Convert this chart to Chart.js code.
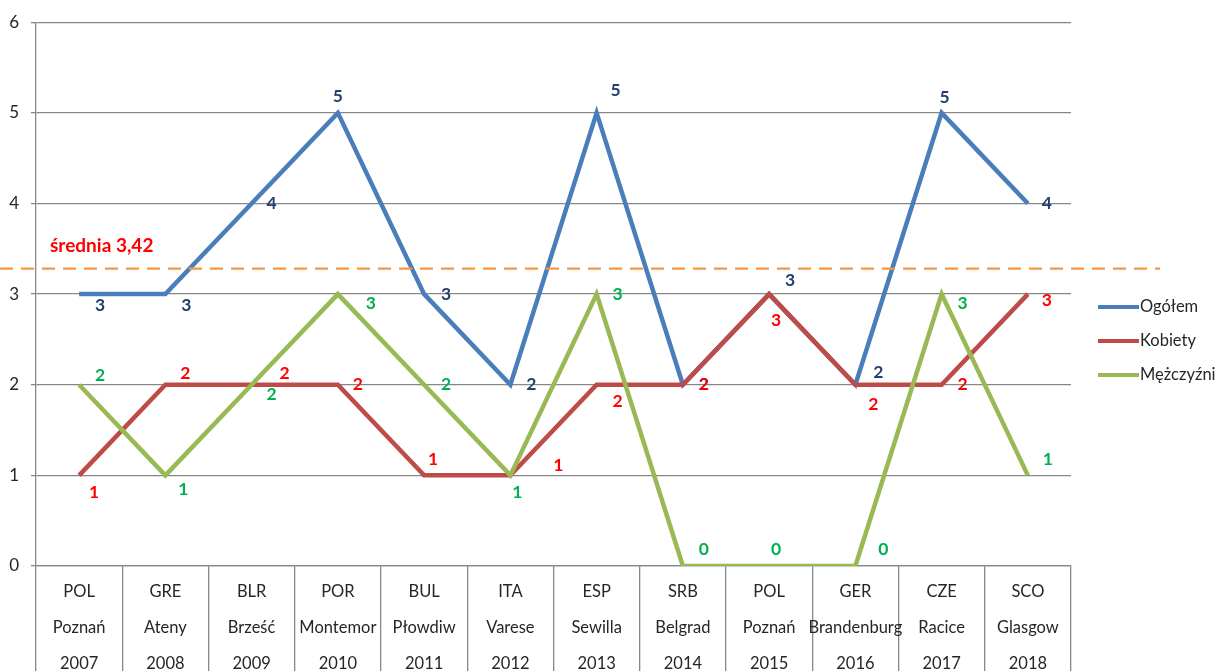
<!DOCTYPE html>
<html>
<head>
<meta charset="utf-8">
<script src="https://cdn.jsdelivr.net/npm/chart.js@4/dist/chart.umd.min.js"></script>
<style>
    html, body { margin: 0; padding: 0; background: #fff; }
    #wrap { width: 1219px; height: 671px; position: relative; }
</style>
</head>
<body>
<div id="wrap"><canvas id="chart"></canvas></div>
<script>
// Categories (country, city, year)
const countries = ['POL', 'GRE', 'BLR', 'POR', 'BUL', 'ITA', 'ESP', 'SRB', 'POL', 'GER', 'CZE', 'SCO'];
const cities = ['Poznań', 'Ateny', 'Brześć', 'Montemor', 'Płowdiw', 'Varese', 'Sewilla', 'Belgrad', 'Poznań', 'Brandenburg', 'Racice', 'Glasgow'];
const years = ['2007', '2008', '2009', '2010', '2011', '2012', '2013', '2014', '2015', '2016', '2017', '2018'];

// Series values
const ogolem = [3, 3, 4, 5, 3, 2, 5, 2, 3, 2, 5, 4];
const kobiety = [1, 2, 2, 2, 1, 1, 2, 2, 3, 2, 2, 3];
const mezczyzni = [2, 1, 2, 3, 2, 1, 3, 0, 0, 0, 3, 1];

// Average line (as drawn) and its caption
const averageLevel = 3.28;
const averageText = 'średnia 3,42';

// Y axis ticks
const yTicks = [0, 1, 2, 3, 4, 5, 6];

// Label shifts relative to each point (px)
const ogolemShift = [[21, 11], [21, 11], [20, 0], [0, -16], [22, 0], [21, 0], [19, -22], [21, 0], [21, -14], [23, -12], [3, -15], [19, 0]];
const kobietyShift = [[15, 17], [20, -11], [33, -11], [20, 0], [9, -16], [48, -10], [21, 17], [21, 0], [7, 26], [18, 20], [21, 0], [19, 6]];
const mezczyzniShift = [[21, -9], [18, 14], [20, 10], [33, 9], [22, 0], [7, 17], [21, 0], [21, -17], [7, -17], [28, -17], [21, 9], [20, -16]];

const FONT = 'Lato, "Open Sans", sans-serif';
const GRID = '#878787';

const labels = countries.map((c, i) => [c, cities[i], years[i]]);

// Draw value labels next to each point
const valueLabels = {
    id: 'valueLabels',
    afterDatasetsDraw(chart) {
        const ctx = chart.ctx;
        ctx.save();
        ctx.font = 'bold 17.5px ' + FONT;
        ctx.textAlign = 'center';
        ctx.textBaseline = 'middle';
        chart.data.datasets.forEach((ds, di) => {
            const meta = chart.getDatasetMeta(di);
            ctx.fillStyle = ds.labelColor;
            meta.data.forEach((pt, i) => {
                const s = ds.labelShift[i];
                ctx.fillText(String(ds.data[i]), pt.x + s[0], pt.y + s[1]);
            });
        });
        ctx.restore();
    }
};

// Dashed average line + caption
const averageLine = {
    id: 'averageLine',
    afterDatasetsDraw(chart) {
        const ctx = chart.ctx;
        const y = chart.scales.y.getPixelForValue(averageLevel);
        ctx.save();
        ctx.strokeStyle = '#f79646';
        ctx.lineWidth = 2.2;
        ctx.setLineDash([13, 8]);
        ctx.beginPath();
        ctx.moveTo(0, y);
        ctx.lineTo(1160, y);
        ctx.stroke();
        ctx.setLineDash([]);
        ctx.fillStyle = '#ff0000';
        ctx.font = 'bold 19px ' + FONT;
        ctx.textAlign = 'left';
        ctx.textBaseline = 'middle';
        ctx.fillText(averageText, chart.chartArea.left + 14, y - 23);
        ctx.restore();
    }
};

// Legend on the right
const sideLegend = {
    id: 'sideLegend',
    afterDraw(chart) {
        const ctx = chart.ctx;
        ctx.save();
        ctx.font = '16.5px ' + FONT;
        ctx.textAlign = 'left';
        ctx.textBaseline = 'middle';
        chart.data.datasets.forEach((ds, i) => {
            const y = 307 + i * 34;
            ctx.strokeStyle = ds.borderColor;
            ctx.lineWidth = 4;
            ctx.beginPath();
            ctx.moveTo(1098, y);
            ctx.lineTo(1139, y);
            ctx.stroke();
            ctx.fillStyle = '#262626';
            ctx.fillText(ds.label, 1140, y);
        });
        ctx.restore();
    }
};

new Chart(document.getElementById('chart'), {
    type: 'line',
    data: {
        labels: labels,
        datasets: [
            { label: 'Ogółem', data: ogolem, borderColor: '#4a7ebb', labelColor: '#243f6e', labelShift: ogolemShift, order: 3 },
            { label: 'Kobiety', data: kobiety, borderColor: '#be4b48', labelColor: '#ff0000', labelShift: kobietyShift, order: 2 },
            { label: 'Mężczyźni', data: mezczyzni, borderColor: '#98b954', labelColor: '#00b050', labelShift: mezczyzniShift, order: 1 }
        ].map(d => Object.assign(d, {
            borderWidth: 4.5,
            pointRadius: 0,
            pointHoverRadius: 0,
            tension: 0,
            fill: false,
            borderJoinStyle: 'miter',
            borderCapStyle: 'butt'
        }))
    },
    options: {
        responsive: true,
        maintainAspectRatio: false,
        animation: false,
        layout: { padding: { top: 21, right: 148, left: 0, bottom: 0 } },
        plugins: {
            legend: { display: false },
            tooltip: { enabled: false }
        },
        scales: {
            x: {
                offset: true,
                grid: {
                    offset: true,
                    drawOnChartArea: false,
                    drawTicks: true,
                    tickLength: 105,
                    color: GRID,
                    lineWidth: 1.3
                },
                border: { color: GRID, width: 1.3 },
                ticks: {
                    autoSkip: false,
                    maxRotation: 0,
                    padding: -98,
                    color: '#262626',
                    font: { family: FONT, size: 16.5, lineHeight: 2.21 }
                },
                afterFit(scale) { scale.height = 105; }
            },
            y: {
                min: 0,
                max: 6,
                afterBuildTicks(scale) { scale.ticks = yTicks.map(v => ({ value: v })); },
                grid: {
                    color: GRID,
                    lineWidth: 1.3,
                    drawTicks: true,
                    tickLength: 5
                },
                border: { color: GRID, width: 1.3 },
                ticks: {
                    padding: 12,
                    color: '#262626',
                    font: { family: FONT, size: 17 }
                },
                afterFit(scale) { scale.width = 36; }
            }
        }
    },
    plugins: [averageLine, valueLabels, sideLegend]
});
</script>
</body>
</html>
